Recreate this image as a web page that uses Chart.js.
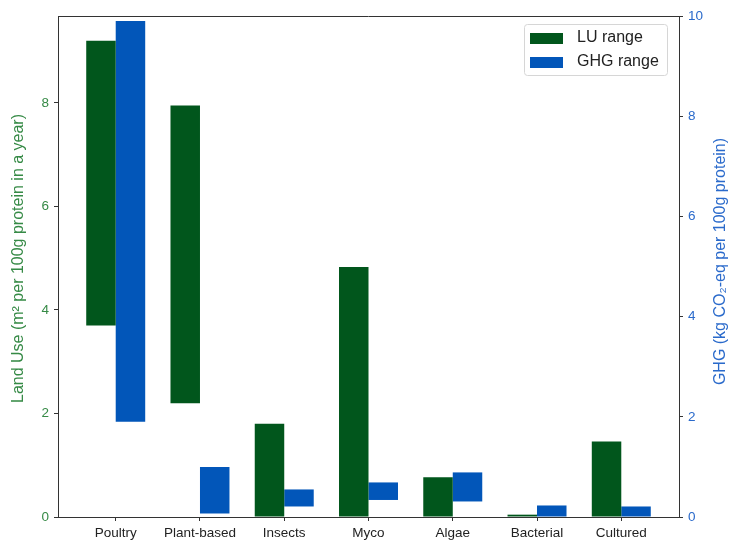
<!DOCTYPE html>
<html>
<head>
<meta charset="utf-8">
<script src="https://cdn.jsdelivr.net/npm/chart.js@4.4.1/dist/chart.umd.min.js"></script>
<style>
  html, body { margin: 0; padding: 0; background: #ffffff; }
  canvas { display: block; }
</style>
</head>
<body>
<canvas id="chart" width="729" height="547"></canvas>
<script>
// Protein sources
const categories = ['Poultry', 'Plant-based', 'Insects', 'Myco', 'Algae', 'Bacterial', 'Cultured'];

// Land use range (m² per 100g protein in a year)
const luLow  = [3.7, 2.2, 0, 0, 0, 0, 0];
const luHigh = [9.2, 7.95, 1.8, 4.83, 0.77, 0.045, 1.46];

// Greenhouse gas range (kg CO₂-eq per 100g protein)
const ghgLow  = [1.9, 0.07, 0.21, 0.34, 0.31, 0, 0];
const ghgHigh = [9.9, 1.0, 0.55, 0.69, 0.89, 0.23, 0.21];

// Axis tick values
const luTicks  = [0, 2, 4, 6, 8];
const ghgTicks = [0, 2, 4, 6, 8, 10];

const GREEN = '#01561c';
const BLUE = '#0256b9';
const GREEN_TEXT = '#368a46';
const BLUE_TEXT = '#2a6acb';
const AXIS = '#333333';
const FONT = '"Liberation Sans", Arial, Helvetica, sans-serif';

const luData = categories.map((c, i) => ({ x: i, y: [luLow[i], luHigh[i]] }));
const ghgData = categories.map((c, i) => ({ x: i, y: [ghgLow[i], ghgHigh[i]] }));

// Frame around the plotting area plus rotated axis titles and the legend box
const decorations = {
  id: 'decorations',
  afterDatasetsDraw(chart) {
    const { ctx, chartArea: a } = chart;
    ctx.save();
    ctx.strokeStyle = AXIS;
    ctx.lineWidth = 1;
    ctx.beginPath();
    ctx.moveTo(a.left, a.top + 0.5);
    ctx.lineTo(a.right, a.top + 0.5);
    ctx.stroke();

    const mid = (a.top + a.bottom) / 2;
    ctx.font = '16px ' + FONT;
    ctx.textAlign = 'center';
    ctx.textBaseline = 'middle';

    ctx.save();
    ctx.translate(19, mid - 8);
    ctx.rotate(-Math.PI / 2);
    ctx.fillStyle = GREEN_TEXT;
    ctx.fillText('Land Use (m² per 100g protein in a year)', 0, 0);
    ctx.restore();

    ctx.save();
    ctx.translate(721, mid - 5);
    ctx.rotate(-Math.PI / 2);
    ctx.fillStyle = BLUE_TEXT;
    ctx.fillText('GHG (kg CO₂-eq per 100g protein)', 0, 0);
    ctx.restore();

    // Legend
    const bx = a.right - 155, by = a.top + 8, bw = 143, bh = 51;
    ctx.fillStyle = 'rgba(255,255,255,0.85)';
    ctx.strokeStyle = '#d6d6d6';
    ctx.beginPath();
    ctx.roundRect(bx + 0.5, by + 0.5, bw, bh, 3);
    ctx.fill();
    ctx.stroke();
    ctx.font = '16px ' + FONT;
    ctx.textAlign = 'left';
    chart.data.datasets.forEach((ds, k) => {
      const cy = by + 14 + k * 24;
      ctx.fillStyle = ds.backgroundColor;
      ctx.fillRect(bx + 6, cy - 5, 33, 11);
      ctx.fillStyle = '#222222';
      ctx.fillText(ds.label, bx + 53, cy);
    });
    ctx.restore();
  }
};

new Chart(document.getElementById('chart'), {
  type: 'bar',
  data: {
    datasets: [
      { label: 'LU range', data: luData, backgroundColor: GREEN, yAxisID: 'yL',
        categoryPercentage: 0.7, barPercentage: 1.0, borderWidth: 0 },
      { label: 'GHG range', data: ghgData, backgroundColor: BLUE, yAxisID: 'yR',
        categoryPercentage: 0.7, barPercentage: 1.0, borderWidth: 0 }
    ]
  },
  options: {
    responsive: false,
    animation: false,
    layout: { padding: { top: 16, left: 0, right: 0, bottom: 0 } },
    plugins: {
      legend: { display: false },
      tooltip: { enabled: false }
    },
    scales: {
      x: {
        type: 'linear',
        offset: false,
        min: -0.685,
        max: 6.685,
        afterBuildTicks: (s) => { s.ticks = categories.map((c, i) => ({ value: i })); },
        afterFit: (s) => { s.height = 30; },
        ticks: {
          autoSkip: false,
          maxRotation: 0,
          padding: 4,
          color: '#222222',
          font: { family: FONT, size: 13.5 },
          callback: (v) => categories[v]
        },
        grid: { offset: false, drawOnChartArea: false, drawTicks: true, tickLength: 4, tickColor: AXIS },
        border: { display: true, color: AXIS, width: 1 }
      },
      yL: {
        type: 'linear',
        position: 'left',
        min: 0,
        max: 9.68,
        afterBuildTicks: (s) => { s.ticks = luTicks.map(v => ({ value: v })); },
        afterFit: (s) => { s.width = 58; },
        ticks: { padding: 5, color: GREEN_TEXT, font: { family: FONT, size: 13.5 } },
        grid: { drawOnChartArea: false, drawTicks: true, tickLength: 4, tickColor: AXIS },
        border: { display: true, color: AXIS, width: 1 }
      },
      yR: {
        type: 'linear',
        position: 'right',
        min: 0,
        max: 10,
        afterBuildTicks: (s) => { s.ticks = ghgTicks.map(v => ({ value: v })); },
        afterFit: (s) => { s.width = 50; },
        ticks: { padding: 5, color: BLUE_TEXT, font: { family: FONT, size: 13.5 } },
        grid: { drawOnChartArea: false, drawTicks: true, tickLength: 4, tickColor: AXIS },
        border: { display: true, color: AXIS, width: 1 }
      }
    }
  },
  plugins: [decorations]
});
</script>
</body>
</html>
